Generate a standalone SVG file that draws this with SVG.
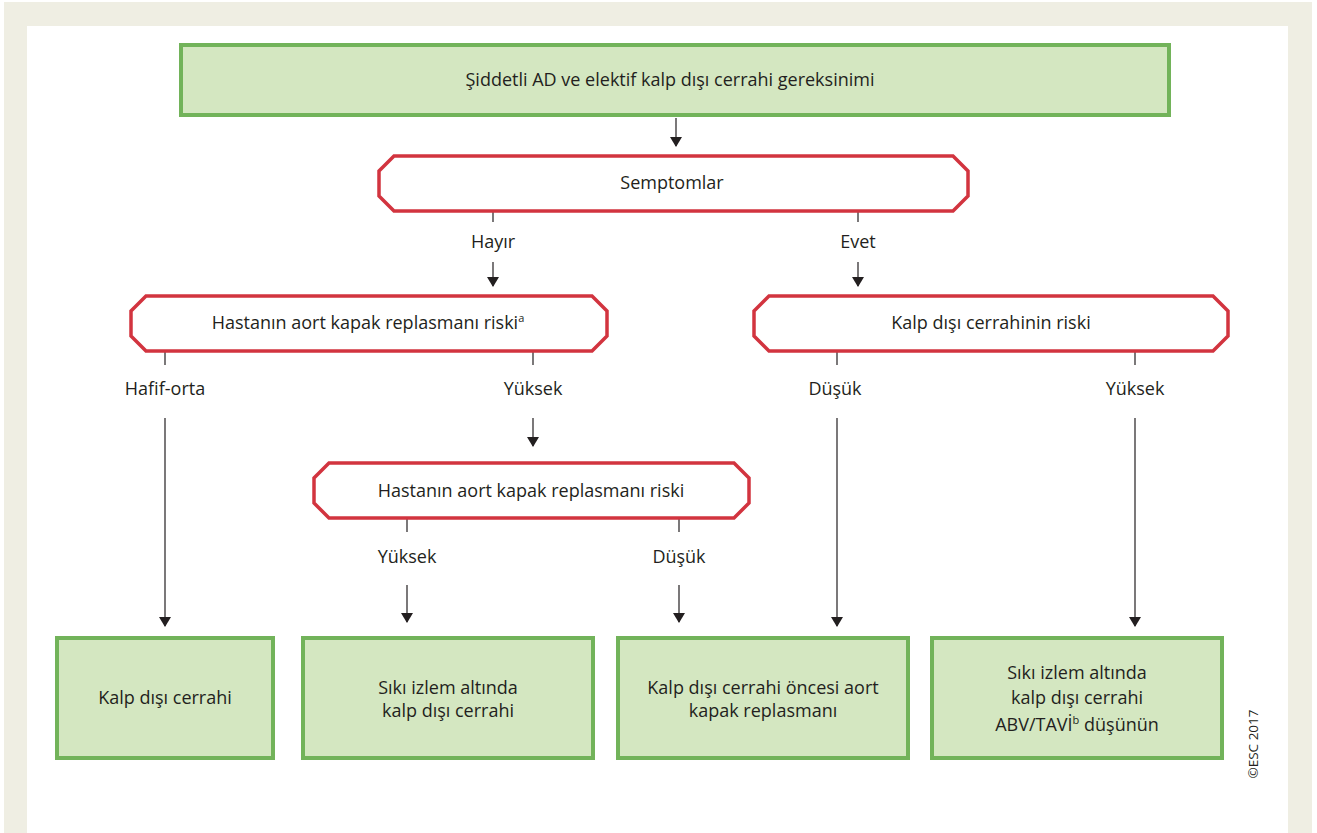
<svg xmlns="http://www.w3.org/2000/svg" width="1317" height="833" viewBox="0 0 1317 833">
  <defs>
    <marker id="arrow" viewBox="0 0 10 12" refX="9" refY="6" markerWidth="10" markerHeight="12" markerUnits="userSpaceOnUse" orient="auto">
      <path d="M0,0 L10,6 L0,12 Z" fill="#231f20"/>
    </marker>
    <style>
      .frame { fill: #efeee3; }
      .panel { fill: #ffffff; }
      .box { fill: #d4e7c1; stroke: #72b35a; stroke-width: 4; }
      .dec { fill: #ffffff; stroke: #d2343f; stroke-width: 3.5; stroke-linejoin: miter; }
      .txt { font-family: "Open Sans", "Liberation Sans", sans-serif; font-size: 18px; fill: #231f20; text-anchor: middle; }
      .sup { font-size: 11px; }
      .tick { stroke: #231f20; stroke-width: 1.2; fill: none; }
      .arr { stroke: #231f20; stroke-width: 1.2; fill: none; marker-end: url(#arrow); }
      .copy { font-family: "Open Sans", "Liberation Sans", sans-serif; font-size: 13.5px; fill: #231f20; text-anchor: middle; }
    </style>
  </defs>

  <!-- page frame -->
  <rect class="frame" x="4" y="2" width="1308" height="831"/>
  <rect class="panel" x="27" y="26" width="1261" height="807"/>

  <!-- connectors -->
  <g id="connectors">
    <line class="arr" x1="676" y1="118" x2="676" y2="146"/>
    <line class="tick" x1="493" y1="211" x2="493" y2="222"/>
    <line class="arr" x1="493" y1="262" x2="493" y2="286"/>
    <line class="tick" x1="858" y1="211" x2="858" y2="222"/>
    <line class="arr" x1="858" y1="262" x2="858" y2="286"/>

    <line class="tick" x1="165" y1="352" x2="165" y2="365"/>
    <line class="arr" x1="165" y1="418" x2="165" y2="626"/>
    <line class="tick" x1="533" y1="352" x2="533" y2="365"/>
    <line class="arr" x1="533" y1="418" x2="533" y2="446"/>

    <line class="tick" x1="837" y1="352" x2="837" y2="365"/>
    <line class="arr" x1="837" y1="418" x2="837" y2="626"/>
    <line class="tick" x1="1135" y1="352" x2="1135" y2="365"/>
    <line class="arr" x1="1135" y1="418" x2="1135" y2="626"/>

    <line class="tick" x1="407" y1="519" x2="407" y2="532"/>
    <line class="arr" x1="407" y1="585" x2="407" y2="622"/>
    <line class="tick" x1="679" y1="519" x2="679" y2="532"/>
    <line class="arr" x1="679" y1="585" x2="679" y2="622"/>

    <text class="txt" x="493" y="248">Hayır</text>
    <text class="txt" x="858" y="248">Evet</text>
    <text class="txt" x="165" y="395">Hafif-orta</text>
    <text class="txt" x="533" y="395">Yüksek</text>
    <text class="txt" x="835" y="395">Düşük</text>
    <text class="txt" x="1135" y="395">Yüksek</text>
    <text class="txt" x="407" y="563">Yüksek</text>
    <text class="txt" x="679" y="563">Düşük</text>
  </g>

  <g id="start">
    <rect class="box" x="181" y="45" width="988" height="70"/>
    <text class="txt" x="670" y="86">Şiddetli AD ve elektif kalp dışı cerrahi gereksinimi</text>
  </g>

  <g id="symptoms">
    <path class="dec" d="M394,156 H953 L968,171 V196 L953,211 H394 L379,196 V171 Z"/>
    <text class="txt" x="672" y="189">Semptomlar</text>
  </g>

  <g id="avr-risk-1">
    <path class="dec" d="M146,296 H592 L607,311 V336 L592,351 H146 L131,336 V311 Z"/>
    <text class="txt" x="368" y="329">Hastanın aort kapak replasmanı riski<tspan class="sup" dy="-7">a</tspan></text>
  </g>

  <g id="ncs-risk">
    <path class="dec" d="M769,296 H1213 L1228,311 V336 L1213,351 H769 L754,336 V311 Z"/>
    <text class="txt" x="991" y="329">Kalp dışı cerrahinin riski</text>
  </g>

  <g id="avr-risk-2">
    <path class="dec" d="M329,463 H734 L749,478 V503 L734,518 H329 L314,503 V478 Z"/>
    <text class="txt" x="531" y="497">Hastanın aort kapak replasmanı riski</text>
  </g>

  <g id="out-ncs">
    <rect class="box" x="57" y="638" width="216" height="120"/>
    <text class="txt" x="165" y="704">Kalp dışı cerrahi</text>
  </g>

  <g id="out-monitored">
    <rect class="box" x="303" y="638" width="290" height="120"/>
    <text class="txt" x="448" y="694">Sıkı izlem altında</text>
    <text class="txt" x="448" y="717">kalp dışı cerrahi</text>
  </g>

  <g id="out-avr-first">
    <rect class="box" x="618" y="638" width="290" height="120"/>
    <text class="txt" x="763" y="694">Kalp dışı cerrahi öncesi aort</text>
    <text class="txt" x="763" y="717">kapak replasmanı</text>
  </g>

  <g id="out-bav-tavi">
    <rect class="box" x="932" y="638" width="290" height="120"/>
    <text class="txt" x="1077" y="679">Sıkı izlem altında</text>
    <text class="txt" x="1077" y="704">kalp dışı cerrahi</text>
    <text class="txt" x="1077" y="731">ABV/TAVİ<tspan class="sup" dy="-7">b</tspan><tspan dy="7"> düşünün</tspan></text>
  </g>

  <text class="copy" transform="translate(1258,744) rotate(-90)">©ESC 2017</text>
</svg>
